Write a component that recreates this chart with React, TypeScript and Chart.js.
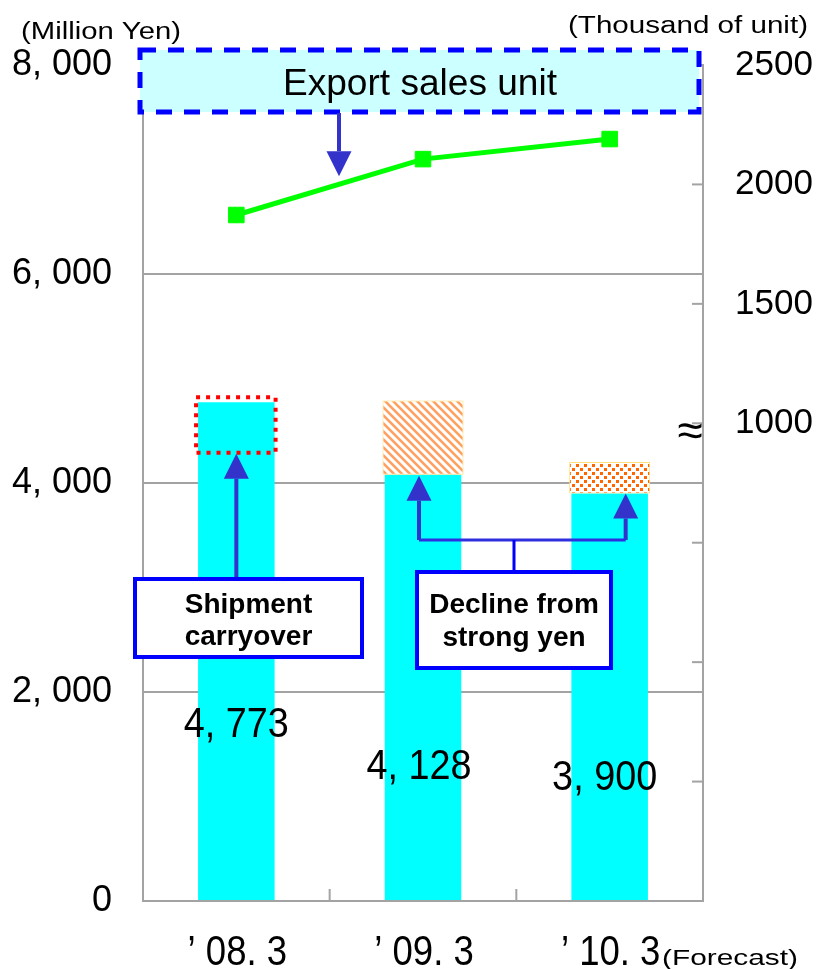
import React, { useEffect, useRef } from 'react';
import { Chart, registerables } from 'chart.js';

Chart.register(...registerables);

// ---- data ----
const categories = ["'08.3", "'09.3", "'10.3"];
const categoryLabels = ['’ 08. 3', '’ 09. 3', '’ 10. 3'];
const salesValues = [4773, 4080, 3900]; // Million Yen (bar heights as drawn)
const salesLabels = ['4, 773', '4, 128', '3, 900'];
const declineRanges: ([number, number] | null)[] = [null, [4080, 4790], [3900, 4200]];
const carryoverRange = [4290, 4820];
const exportUnits = [1872, 2106, 2190]; // Thousand of unit
const leftTicks = [0, 2000, 4000, 6000, 8000];
const leftTickLabels = ['0', '2, 000', '4, 000', '6, 000', '8, 000'];
const rightTickValues = [1000, 1500, 2000, 2500];
const rightTickLabels = ['1000', '1500', '2000', '2500'];

const GRAY = '#a3a3a3';
const FONT = '"Liberation Sans", Arial, "Noto Sans CJK JP", sans-serif';
const ARROW = '#3333cc';
const BLUE = '#0000ff';

function makeStripes(): CanvasPattern | string {
  const c = document.createElement('canvas');
  c.width = 8; c.height = 8;
  const g = c.getContext('2d');
  if (!g) return '#ff9640';
  g.fillStyle = '#ffffff'; g.fillRect(0, 0, 8, 8);
  g.strokeStyle = '#ffa060'; g.lineWidth = 2.6;
  g.beginPath();
  for (let k = -1; k <= 1; k++) { g.moveTo(k * 8 - 2, -2); g.lineTo(k * 8 + 10, 10); }
  g.stroke();
  return g.createPattern(c, 'repeat') || '#ff9640';
}

function makeDots(): CanvasPattern | string {
  const c = document.createElement('canvas');
  c.width = 8; c.height = 8;
  const g = c.getContext('2d');
  if (!g) return '#ff6600';
  g.fillStyle = '#ffffff'; g.fillRect(0, 0, 8, 8);
  g.fillStyle = '#ff6600';
  g.fillRect(0, 0, 3, 3);
  g.fillRect(4, 4, 3, 3);
  return g.createPattern(c, 'repeat') || '#ff6600';
}

function drawText(ctx: CanvasRenderingContext2D, s: string, x: number, y: number, font: string, align: CanvasTextAlign, sx = 1) {
  ctx.save();
  ctx.font = font;
  ctx.fillStyle = '#000';
  ctx.textAlign = align;
  ctx.textBaseline = 'alphabetic';
  ctx.translate(x, y);
  ctx.scale(sx, 1);
  ctx.fillText(s, 0, 0);
  ctx.restore();
}

// draw text stretched/condensed horizontally to a given width
function drawFit(ctx: CanvasRenderingContext2D, s: string, x: number, y: number, font: string, align: CanvasTextAlign, width: number) {
  ctx.save();
  ctx.font = font;
  const w = ctx.measureText(s).width || width;
  ctx.restore();
  drawText(ctx, s, x, y, font, align, width / w);
}

function drawArrow(ctx: CanvasRenderingContext2D, x: number, fromY: number, tipY: number) {
  const dir = tipY < fromY ? -1 : 1;
  const headLen = 25, half = 12.5;
  const baseY = tipY - dir * headLen;
  ctx.save();
  ctx.setLineDash([]);
  ctx.strokeStyle = ARROW; ctx.lineWidth = 4;
  ctx.beginPath(); ctx.moveTo(x, fromY); ctx.lineTo(x, baseY); ctx.stroke();
  ctx.fillStyle = ARROW;
  ctx.beginPath(); ctx.moveTo(x, tipY); ctx.lineTo(x - half, baseY); ctx.lineTo(x + half, baseY); ctx.closePath(); ctx.fill();
  ctx.restore();
}

function drawNote(ctx: CanvasRenderingContext2D, l: number, t: number, r: number, b: number, lines: string[], baselines: number[]) {
  ctx.save();
  ctx.setLineDash([]);
  ctx.fillStyle = '#ffffff';
  ctx.fillRect(l, t, r - l, b - t);
  ctx.strokeStyle = BLUE; ctx.lineWidth = 4;
  ctx.strokeRect(l, t, r - l, b - t);
  ctx.restore();
  lines.forEach((s, i) => drawText(ctx, s, (l + r) / 2, baselines[i], `bold 28px ${FONT}`, 'center'));
}

const overlayPlugin = {
  id: 'overlay',
  afterDraw(chart: any) {
    const ctx: CanvasRenderingContext2D = chart.ctx;
    const area = chart.chartArea;
    const y = chart.scales.y;
    const y1 = chart.scales.y1;
    const lineMeta = chart.getDatasetMeta(0).data as any[];
    const bars = chart.getDatasetMeta(1).data as any[];

    ctx.save();
    // inner tick marks on x axis (category boundaries)
    ctx.strokeStyle = GRAY; ctx.lineWidth = 2;
    for (let i = 0; i < bars.length - 1; i++) {
      const bx = (chart.scales.x.getPixelForValue(i) + chart.scales.x.getPixelForValue(i + 1)) / 2;
      ctx.beginPath(); ctx.moveTo(bx, area.bottom); ctx.lineTo(bx, area.bottom - 12); ctx.stroke();
    }
    // inner tick marks on right axis
    y1.ticks.forEach((t: any) => {
      const py = y1.getPixelForValue(t.value);
      ctx.beginPath(); ctx.moveTo(area.right - 11, py); ctx.lineTo(area.right, py); ctx.stroke();
    });
    ctx.restore();

    // red dotted box: shipment carryover
    const b0 = bars[0];
    const cTop = y.getPixelForValue(carryoverRange[1]);
    const cBot = y.getPixelForValue(carryoverRange[0]);
    ctx.save();
    ctx.strokeStyle = '#ff0000'; ctx.lineWidth = 4; ctx.setLineDash([4, 6]);
    ctx.strokeRect(b0.x - b0.width / 2 - 2, cTop, b0.width + 3, cBot - cTop);
    ctx.restore();

    // Export sales unit box
    ctx.save();
    const ebL = area.left - 3, ebR = area.right - 4, ebT = area.top - 15, ebB = area.top + 47;
    ctx.fillStyle = '#ccffff';
    ctx.fillRect(ebL, ebT, ebR - ebL, ebB - ebT);
    ctx.strokeStyle = BLUE; ctx.lineWidth = 5; ctx.setLineDash([16, 12]);
    ctx.strokeRect(ebL, ebT, ebR - ebL, ebB - ebT);
    ctx.restore();
    drawFit(ctx, 'Export sales unit', 283, area.top + 30, `36px ${FONT}`, 'left', 274);

    // arrow from box to line
    const p0 = lineMeta[0], p1 = lineMeta[1];
    const f = 0.55;
    const ax = p0.x + f * (p1.x - p0.x);
    const lineY = p0.y + f * (p1.y - p0.y);
    drawArrow(ctx, ax, ebB + 1, lineY - 8);

    // shipment carryover note + arrow
    drawArrow(ctx, b0.x, 579, cBot + 1);
    drawNote(ctx, 135, 579, 362, 657, ['Shipment', 'carryover'], [613, 645]);

    // decline note + connector arrows
    const a2x = bars[1].x - 4;
    const a3x = bars[2].x + 16;
    const connY = 540;
    drawArrow(ctx, a2x, connY, y.getPixelForValue(salesValues[1]) + 1);
    drawArrow(ctx, a3x, connY, y.getPixelForValue(salesValues[2]));
    ctx.save();
    ctx.strokeStyle = '#2f2fe0'; ctx.lineWidth = 3; ctx.setLineDash([]);
    ctx.beginPath(); ctx.moveTo(a2x, connY); ctx.lineTo(a3x, connY); ctx.stroke();
    ctx.strokeStyle = BLUE;
    ctx.beginPath(); ctx.moveTo(514, connY); ctx.lineTo(514, 572); ctx.stroke();
    ctx.restore();
    drawNote(ctx, 417, 572, 611, 668, ['Decline from', 'strong yen'], [613, 646]);

    // value labels
    const labelBase = [737, 779, 790];
    const labelDx = [0, -4, -5];
    salesLabels.forEach((s, i) => drawText(ctx, s, bars[i].x + labelDx[i], labelBase[i], `42px ${FONT}`, 'center', 0.9));

    // category labels
    categoryLabels.forEach((s, i) => drawText(ctx, s, bars[i].x + 1, 965, `42px ${FONT}`, 'center', 0.87));
    drawFit(ctx, '(Forecast)', 662, 965, `22px ${FONT}`, 'left', 136);

    // axis titles
    drawFit(ctx, '(Million Yen)', 21, 39, `23px ${FONT}`, 'left', 160);
    drawFit(ctx, '(Thousand of unit)', 808, 33, `23px ${FONT}`, 'right', 240);

    // axis break mark
    ctx.save();
    ctx.font = `46px ${FONT}`;
    ctx.fillStyle = '#000';
    ctx.textAlign = 'center';
    ctx.textBaseline = 'middle';
    ctx.fillText('≈', area.right - 13, y1.getPixelForValue(1000) + 10);
    ctx.restore();
  },
};

export default function App() {
  const canvasRef = useRef<HTMLCanvasElement | null>(null);

  useEffect(() => {
    const canvas = canvasRef.current;
    if (!canvas) return;
    const stripes = makeStripes();
    const dots = makeDots();
    const chart = new Chart(canvas, {
      type: 'bar',
      data: {
        labels: categories,
        datasets: [
          {
            type: 'line',
            label: 'Export sales unit',
            data: exportUnits,
            yAxisID: 'y1',
            borderColor: '#00ff00',
            backgroundColor: '#00ff00',
            borderWidth: 5,
            pointStyle: 'rect',
            pointRadius: 11,
            pointBorderWidth: 1,
            pointBorderColor: '#00ff00',
            pointBackgroundColor: '#00ff00',
            tension: 0,
            order: 0,
          } as any,
          {
            type: 'bar',
            label: 'Sales',
            data: salesValues,
            yAxisID: 'y',
            backgroundColor: '#00ffff',
            barPercentage: 0.41,
            categoryPercentage: 1,
            grouped: false,
            order: 2,
          } as any,
          {
            type: 'bar',
            label: 'Decline from strong yen',
            data: declineRanges,
            yAxisID: 'y',
            backgroundColor: ['#ffffff', stripes, dots],
            borderColor: '#ffe07a',
            borderWidth: 1,
            borderSkipped: false,
            barPercentage: 0.434,
            categoryPercentage: 1,
            grouped: false,
            order: 1,
          } as any,
        ],
      },
      options: {
        responsive: false,
        animation: false,
        devicePixelRatio: 1,
        layout: { padding: { top: 65, left: 0, right: 0, bottom: 0 } },
        plugins: {
          legend: { display: false },
          tooltip: { enabled: false },
        },
        scales: {
          x: {
            type: 'category',
            offset: true,
            grid: { display: false, drawTicks: false },
            border: { display: true, color: GRAY, width: 2 },
            ticks: { display: false },
            afterFit: (s: any) => { s.height = 68; },
          },
          y: {
            position: 'left',
            min: 0,
            max: 8000,
            grid: { color: GRAY, lineWidth: 2, drawTicks: false },
            border: { display: true, color: GRAY, width: 2 },
            ticks: {
              stepSize: 2000,
              autoSkip: false,
              padding: 31,
              color: '#000',
              font: { family: FONT, size: 36 },
              callback: (v: any) => {
                const i = leftTicks.indexOf(Number(v));
                return i >= 0 ? leftTickLabels[i] : '';
              },
            },
            afterFit: (s: any) => { s.width = 143; },
          },
          y1: {
            position: 'right',
            min: -1000,
            max: 2500,
            grid: { display: false, drawTicks: false },
            border: { display: true, color: GRAY, width: 2 },
            ticks: {
              stepSize: 500,
              autoSkip: false,
              padding: 32,
              color: '#000',
              font: { family: FONT, size: 35 },
              callback: (v: any) => {
                const i = rightTickValues.indexOf(Number(v));
                return i >= 0 ? rightTickLabels[i] : '';
              },
            },
            afterFit: (s: any) => { s.width = 117; },
          },
        },
      } as any,
      plugins: [overlayPlugin],
    });
    return () => chart.destroy();
  }, []);

  return (
    <div style={{ position: 'absolute', left: 0, top: 0, width: 820, height: 969, background: '#fff' }}>
      <canvas ref={canvasRef} width={820} height={969} style={{ display: 'block' }} />
    </div>
  );
}
